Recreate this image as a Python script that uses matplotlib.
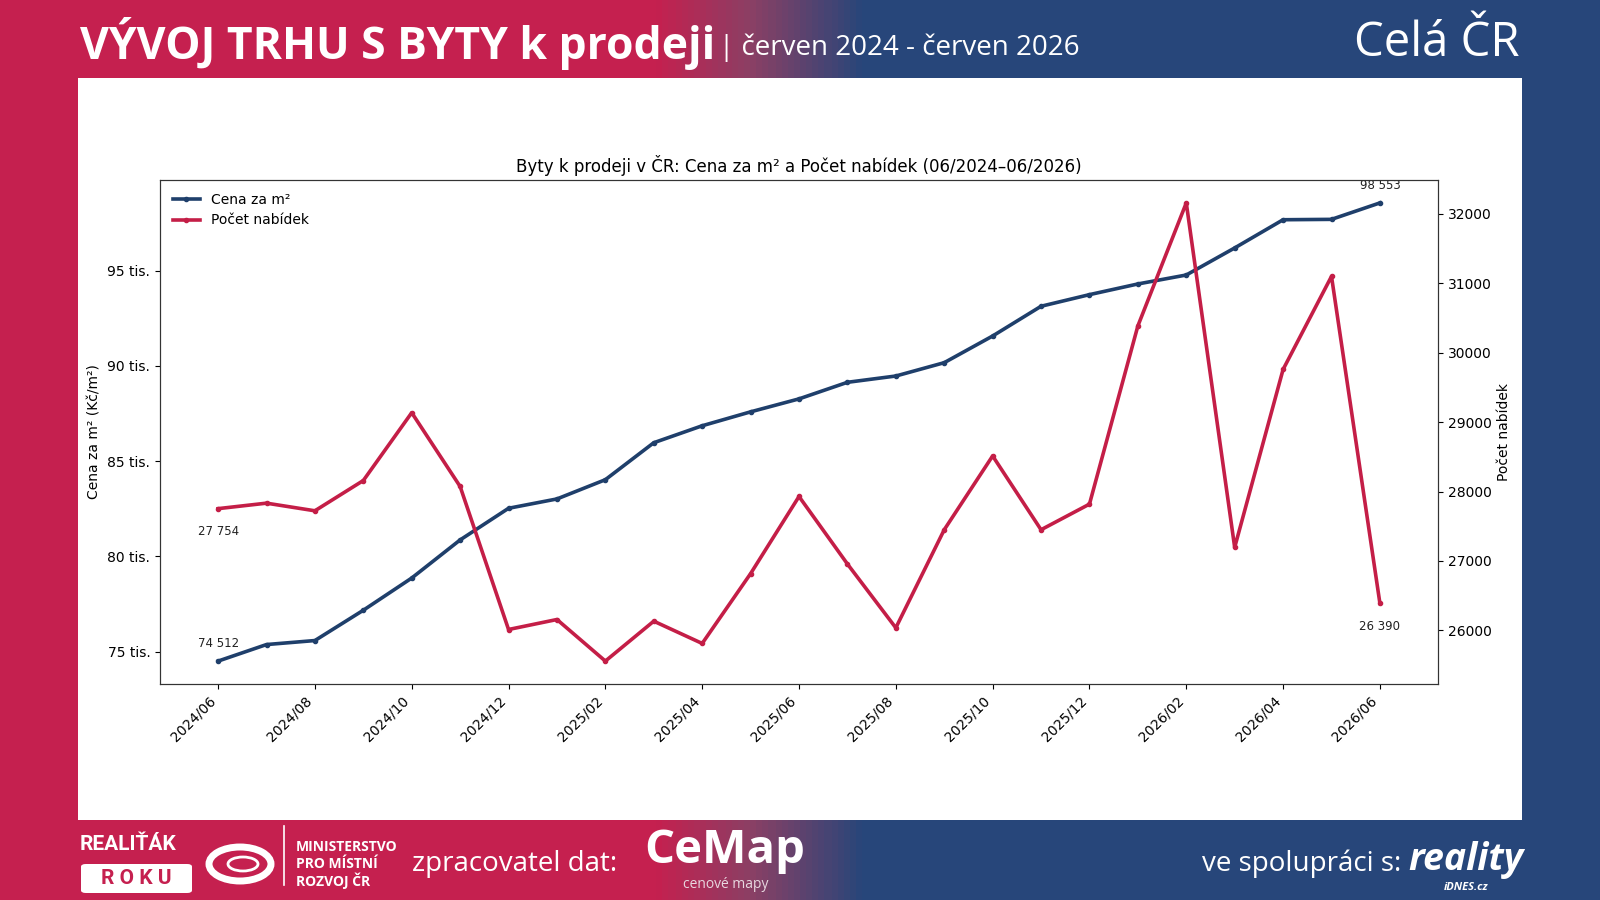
import numpy as np
import matplotlib
matplotlib.use('Agg')
import matplotlib.pyplot as plt
from matplotlib.patches import Rectangle, FancyBboxPatch, Ellipse
from matplotlib.colors import LinearSegmentedColormap
from matplotlib.ticker import FuncFormatter

# data
months = ['2024/06', '2024/07', '2024/08', '2024/09', '2024/10', '2024/11', '2024/12',
          '2025/01', '2025/02', '2025/03', '2025/04', '2025/05', '2025/06', '2025/07',
          '2025/08', '2025/09', '2025/10', '2025/11', '2025/12', '2026/01', '2026/02',
          '2026/03', '2026/04', '2026/05', '2026/06']
price = [74512, 75380, 75590, 77180, 78870, 80870, 82530, 83020, 84030, 85970,
         86860, 87590, 88270, 89140, 89470, 90170, 91570, 93130, 93740, 94300,
         94770, 96190, 97670, 97690, 98553]
offers = [27754, 27833, 27723, 28159, 29136, 28073, 26013, 26157, 25558, 26133,
          25812, 26818, 27929, 26957, 26037, 27450, 28513, 27450, 27819, 30386,
          32158, 27196, 29759, 31100, 26390]

CRIMSON = '#C5204F'
NAVY = '#27467A'
BLUE_LINE = '#1F3F6B'
RED_LINE = '#C41E47'

fig = plt.figure(figsize=(16, 9), dpi=100)

# gradient background
bg = fig.add_axes([0, 0, 1, 1])
cmap = LinearSegmentedColormap.from_list('bg', [(0, CRIMSON), (0.41, CRIMSON), (0.47, '#8A4065'),
                                                (0.54, NAVY), (1, NAVY)])
grad = np.linspace(0, 1, 800).reshape(1, -1)
bg.imshow(grad, aspect='auto', cmap=cmap, extent=[0, 1, 0, 1])
bg.set_xlim(0, 1)
bg.set_ylim(0, 1)
bg.axis('off')

# white panel
bg.add_patch(Rectangle((78 / 1600, 1 - 820 / 900), (1522 - 78) / 1600, (820 - 78) / 900,
                       facecolor='white', edgecolor='none'))

# header
fig.text(80 / 1600, 1 - 44 / 900, 'VÝVOJ TRHU S BYTY k prodeji', color='white',
         fontsize=32, fontweight='bold', family='Open Sans', va='center', ha='left')
fig.text(719 / 1600, 1 - 48 / 900, '| červen 2024 - červen 2026', color='white',
         fontsize=20, family='Open Sans', va='center', ha='left')
fig.text(1520 / 1600, 1 - 43 / 900, 'Celá ČR', color='white',
         fontsize=34, family='Open Sans', va='center', ha='right')

# footer
fig.text(80 / 1600, 1 - 845 / 900, 'REALIŤÁK', color='white', fontsize=15,
         fontweight='bold', family='Roboto', va='center', ha='left')
bg.add_patch(FancyBboxPatch((81 / 1600, 1 - 893 / 900), 111 / 1600, 29 / 900,
                            boxstyle='round,pad=0,rounding_size=0.003',
                            facecolor='white', edgecolor='none'))
fig.text(136 / 1600, 1 - 878 / 900, 'R O K U', color=CRIMSON, fontsize=15,
         fontweight='bold', family='Roboto', va='center', ha='center')
bg.add_patch(Ellipse((240 / 1600, 1 - 864 / 900), 62 / 1600, 34 / 900, angle=0,
                     facecolor='none', edgecolor='white', lw=5))
bg.add_patch(Ellipse((243 / 1600, 1 - 864 / 900), 30 / 1600, 14 / 900,
                     facecolor=CRIMSON, edgecolor='white', lw=2))
bg.plot([284 / 1600, 284 / 1600], [1 - 826 / 900, 1 - 885 / 900], color='white', lw=1.2)
for i, line in enumerate(['MINISTERSTVO', 'PRO MÍSTNÍ', 'ROZVOJ ČR']):
    fig.text(296 / 1600, 1 - (847 + i * 17) / 900, line, color='white', fontsize=10,
             fontweight='bold', family='Open Sans', va='center', ha='left')
fig.text(412 / 1600, 1 - 864 / 900, 'zpracovatel dat:', color='white', fontsize=20,
         family='Open Sans', va='center', ha='left')
fig.text(644 / 1600, 1 - 850 / 900, 'CeMap', color='white', fontsize=34,
         fontweight='bold', family='Open Sans', va='center', ha='left')
fig.text(726 / 1600, 1 - 884 / 900, 'cenové mapy', color='#E8D8E0', fontsize=10,
         family='Open Sans', va='center', ha='center')
fig.text(1401 / 1600, 1 - 864 / 900, 've spolupráci s:', color='white', fontsize=20,
         family='Open Sans', va='center', ha='right')
fig.text(1466 / 1600, 1 - 860 / 900, 'reality', color='white', fontsize=27,
         fontweight='bold', style='italic', family='Open Sans', va='center', ha='center')
fig.text(1466 / 1600, 1 - 887 / 900, 'iDNES.cz', color='white', fontsize=8,
         fontweight='bold', style='italic', family='Open Sans', va='center', ha='center')

# main chart
x = np.arange(len(months))
ax = fig.add_axes([160 / 1600, 1 - 684 / 900, (1438 - 160) / 1600, (684 - 180) / 900])
ax2 = ax.twinx()

l1, = ax.plot(x, price, color=BLUE_LINE, lw=2.6, marker='o', markersize=3, label='Cena za m²')
l2, = ax2.plot(x, offers, color=RED_LINE, lw=2.6, marker='o', markersize=3, label='Počet nabídek')

ax.set_xticks(x[::2])
ax.set_xticklabels(months[::2], rotation=45, ha='right', fontsize=10)
ax.yaxis.set_major_formatter(FuncFormatter(lambda v, p: f'{v / 1000:.0f} tis.'))
ax.set_ylabel('Cena za m² (Kč/m²)', fontsize=10)
ax2.set_ylabel('Počet nabídek', fontsize=10)
ax.tick_params(labelsize=10)
ax2.tick_params(labelsize=10)
ax.set_title('Byty k prodeji v ČR: Cena za m² a Počet nabídek (06/2024–06/2026)', fontsize=12)
for a in (ax, ax2):
    for s in a.spines.values():
        s.set_color('#333333')

def fmt(v):
    return f'{v:,}'.replace(',', ' ')

ax.annotate(fmt(price[0]), (x[0], price[0]), xytext=(0, 8), textcoords='offset points',
            ha='center', va='bottom', fontsize=8.5, color='#222222')
ax.annotate(fmt(price[-1]), (x[-1], price[-1]), xytext=(0, 8), textcoords='offset points',
            ha='center', va='bottom', fontsize=8.5, color='#222222')
ax2.annotate(fmt(offers[0]), (x[0], offers[0]), xytext=(0, -12), textcoords='offset points',
             ha='center', va='top', fontsize=8.5, color='#222222')
ax2.annotate(fmt(offers[-1]), (x[-1], offers[-1]), xytext=(0, -12), textcoords='offset points',
             ha='center', va='top', fontsize=8.5, color='#222222')

ax.legend([l1, l2], ['Cena za m²', 'Počet nabídek'], loc='upper left', frameon=False, fontsize=10)

fig.savefig('out.png', dpi=100)
